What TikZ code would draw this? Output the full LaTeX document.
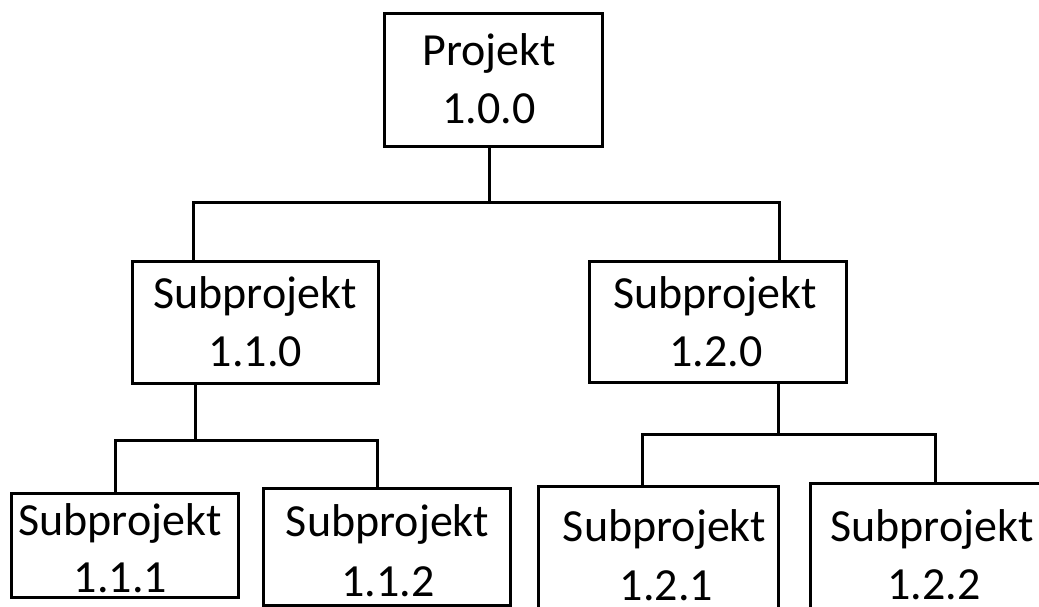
\documentclass[tikz,border=0pt]{standalone}
\usepackage{fontspec}
\setmainfont{Carlito}
\begin{document}
\begin{tikzpicture}[x=1pt,y=-1pt,
  box/.style={draw=black,line width=3pt,inner sep=0pt,outer sep=0pt,fill=white},
  conn/.style={draw=black,line width=3pt},
  lbl/.style={anchor=base,inner sep=0pt,font=\fontsize{46}{55}\selectfont}]
\useasboundingbox (0,0) rectangle (1039,606);
\clip (0,0) rectangle (1039,606);
% boxes (edge centerlines in px, y downward)
\node[box,minimum width=218pt,minimum height=133pt] (P)  at (493,79.5) {};
\node[box,minimum width=246pt,minimum height=122pt] (A)  at (255,322) {};
\node[box,minimum width=257pt,minimum height=121pt] (B)  at (717.5,321.5) {};
\node[box,minimum width=227pt,minimum height=104pt] (A1) at (124.5,545) {};
\node[box,minimum width=247pt,minimum height=117pt] (A2) at (386.5,546.5) {};
\node[box,minimum width=240pt,minimum height=140pt] (B1) at (658,556) {};
\node[box,minimum width=250pt,minimum height=140pt] (B2) at (935,553) {};
% labels
\node[lbl] (tP1) at (489,65) {Projekt};
\node[lbl] (tP2) at (489,123) {1.0.0};
\node[lbl] (tA1) at (255,308) {Subprojekt};
\node[lbl] (tA2) at (255.5,366) {1.1.0};
\node[lbl] (tB1) at (715,308) {Subprojekt};
\node[lbl] (tB2) at (716,366) {1.2.0};
\node[lbl] (tA11) at (120,535) {Subprojekt};
\node[lbl] (tA12) at (120.5,592) {1.1.1};
\node[lbl] (tA21) at (387.5,536) {Subprojekt};
\node[lbl] (tA22) at (388,596) {1.1.2};
\node[lbl] (tB11) at (664.5,541) {Subprojekt};
\node[lbl] (tB12) at (666.5,600) {1.2.1};
\node[lbl] (tB21) at (932,541) {Subprojekt};
\node[lbl] (tB22) at (934,599) {1.2.2};
% bus coordinates
\coordinate (p0) at (489,202);
\coordinate (pa) at (193,202);
\coordinate (pb) at (779,202);
\coordinate (a0) at (195,440);
\coordinate (a1) at (115,440);
\coordinate (a2) at (377,440);
\coordinate (b0) at (778,434);
\coordinate (b1) at (642,434);
\coordinate (b2) at (935,434);
% connectors
\draw[conn] (p0 |- P.south) -- (p0);
\draw[conn] (pa |- A.north) -- (pa) -- (pb) -- (pb |- B.north);
\draw[conn] (a0 |- A.south) -- (a0);
\draw[conn] (a1 |- A1.north) -- (a1) -- (a2) -- (a2 |- A2.north);
\draw[conn] (b0 |- B.south) -- (b0);
\draw[conn] (b1 |- B1.north) -- (b1) -- (b2) -- (b2 |- B2.north);
\end{tikzpicture}
\end{document}
